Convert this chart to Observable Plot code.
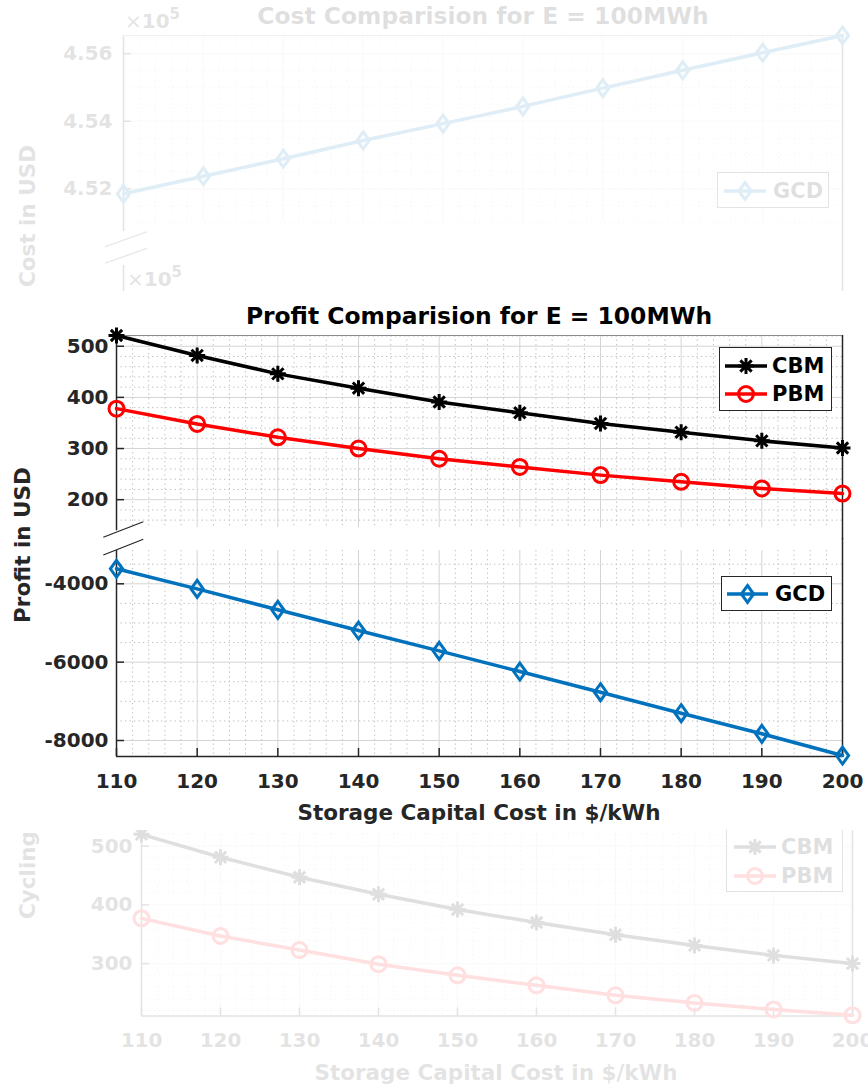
<!DOCTYPE html>
<html><head><meta charset="utf-8">
<script src="https://cdn.jsdelivr.net/npm/d3@7"></script>
<script src="https://cdn.jsdelivr.net/npm/@observablehq/plot@0.6"></script>
<style>
html,body{margin:0;padding:0;background:#fff;overflow:hidden}
#root{position:relative;width:868px;height:1088px;font-family:"DejaVu Sans",sans-serif;font-weight:bold;color:#262626}
.panel{position:absolute;left:0;width:868px;overflow:hidden}
.lbl{position:absolute;white-space:nowrap;line-height:1;transform:translate(-50%,-50%)}
.rot{transform:translate(-50%,-50%) rotate(-90deg)}
.leg{position:absolute;border:1.3px solid #262626;background:#fff;box-sizing:border-box}
</style></head><body><div id="root"></div>
<script>
// ---------- data ----------
const capitalCost = [110,120,130,140,150,160,170,180,190,200];
const profitCBM = [521,482,446,418,391,370,349,332,315,301];
const profitPBM = [378,348,322,300,280,264,248,235,222,212];
const profitGCD = [-3617,-4130,-4664,-5192,-5711,-6239,-6767,-7303,-7829,-8383];
const costGCD = [451850,452370,452890,453430,453930,454440,454980,455510,456030,456540];
const cyclingCBM = [520,481,447,418,392,370,349,331,314,300];
const cyclingPBM = [377,347,323,299,280,263,246,233,222,212];
const profitTicksUpper = [200,300,400,500];
const profitTicksLower = [-8000,-6000,-4000];
const costTicks = [452000,454000,456000];
const cyclingTicks = [300,400,500];
const seriesNames = ["CBM","PBM","GCD"];

const COLORS = {CBM:"#000000", PBM:"#ff0000", GCD:"#0072bd"};
const AX = "#262626";

// minor grid positions
const xMinor = d3.range(112, 200, 2).filter(v => v % 10 !== 0);
const upperMinor = d3.range(160, 521, 20).filter(v => v % 100 !== 0);
const lowerMinor = d3.range(-8000, -3499, 500).filter(v => v % 2000 !== 0);
const costMinor = d3.range(451000, 456541, 500).filter(v => v % 2000 !== 0);
const cyclingMinor = d3.range(220, 530, 20).filter(v => v % 100 !== 0);

// ---------- symbols ----------
const asteriskSym = {draw(ctx, size){ const r=Math.sqrt(size/Math.PI), a=r*Math.SQRT1_2;
  ctx.moveTo(-r,0);ctx.lineTo(r,0);ctx.moveTo(0,-r);ctx.lineTo(0,r);
  ctx.moveTo(-a,-a);ctx.lineTo(a,a);ctx.moveTo(-a,a);ctx.lineTo(a,-a);}};
const diamondSym = {draw(ctx, size){ const r=Math.sqrt(size/Math.PI), w=r*0.72;
  ctx.moveTo(0,-r);ctx.lineTo(w,0);ctx.lineTo(0,r);ctx.lineTo(-w,0);ctx.closePath();}};
const circleSym = {draw(ctx, size){ const r=Math.sqrt(size/Math.PI); ctx.moveTo(r,0); ctx.arc(0,0,r,0,2*Math.PI);}};
const SYM = {CBM:{s:asteriskSym,r:8}, PBM:{s:circleSym,r:7.5}, GCD:{s:diamondSym,r:8.5}};

const root = document.getElementById("root");
function panel(top, height, faded){
  const d = document.createElement("div");
  d.className = "panel"; d.style.top = top+"px"; d.style.height = height+"px";
  if (faded) d.style.opacity = "0.12";
  d.dataset.off = top;
  root.appendChild(d); return d;
}
function text(parent, str, cx, cy, size, opts={}){
  const d = document.createElement("div");
  d.className = "lbl" + (opts.rot ? " rot" : "");
  d.style.left = cx+"px"; d.style.top = (cy - +parent.dataset.off)+"px";
  d.style.fontSize = size+"px";
  if (opts.color) d.style.color = opts.color;
  d.textContent = str;
  parent.appendChild(d); return d;
}
function exponent(parent, x, baseline){
  const d = document.createElement("div");
  d.style.cssText = `position:absolute;left:${x}px;top:${baseline - +parent.dataset.off - 17}px;font-size:20px;line-height:20px;height:20px;white-space:nowrap`;
  d.innerHTML = `<span style="font-weight:normal">×</span>10<span style="font-size:15px;position:relative;top:-9px;line-height:0">5</span>`;
  parent.appendChild(d);
}
function breakMarks(parent, segs){
  const ns = "http://www.w3.org/2000/svg";
  const s = document.createElementNS(ns, "svg");
  s.setAttribute("width", 868); s.setAttribute("height", 1088);
  s.style.cssText = `position:absolute;left:0;top:${- +parent.dataset.off}px;overflow:visible`;
  for (const [x1,y1,x2,y2] of segs){
    const l = document.createElementNS(ns, "line");
    l.setAttribute("x1",x1);l.setAttribute("y1",y1);l.setAttribute("x2",x2);l.setAttribute("y2",y2);
    l.setAttribute("stroke",AX);l.setAttribute("stroke-width",1.2);
    s.appendChild(l);
  }
  parent.appendChild(s);
}
function legend(parent, box, rows){
  const [x0,y0,x1,y1] = box;
  const off = +parent.dataset.off;
  const d = document.createElement("div");
  d.className = "leg";
  d.style.cssText += `left:${x0}px;top:${y0-off}px;width:${x1-x0}px;height:${y1-y0}px`;
  parent.appendChild(d);
  for (const r of rows){
    const ns = "http://www.w3.org/2000/svg";
    const s = document.createElementNS(ns,"svg");
    s.setAttribute("width",60); s.setAttribute("height",30);
    s.style.cssText = `position:absolute;left:${r.lx1-x0-5}px;top:${r.cy-y0-15}px;overflow:visible`;
    const ln = document.createElementNS(ns,"line");
    ln.setAttribute("x1",5);ln.setAttribute("x2",5+r.lx2-r.lx1);ln.setAttribute("y1",15);ln.setAttribute("y2",15);
    ln.setAttribute("stroke",COLORS[r.name]);ln.setAttribute("stroke-width",3.5);
    s.appendChild(ln);
    const p = d3.path(); SYM[r.name].s.draw(p, SYM[r.name].r**2*Math.PI);
    const pe = document.createElementNS(ns,"path");
    pe.setAttribute("d", p.toString());
    pe.setAttribute("transform",`translate(${5+(r.lx2-r.lx1)/2},15)`);
    pe.setAttribute("fill","none");pe.setAttribute("stroke",COLORS[r.name]);pe.setAttribute("stroke-width",3);
    s.appendChild(pe);
    d.appendChild(s);
    const t = document.createElement("div");
    t.style.cssText = `position:absolute;left:${r.tx-x0}px;top:${r.cy-y0}px;transform:translateY(-50%);font-size:21px;line-height:1;color:#000`;
    t.textContent = r.name;
    d.appendChild(t);
  }
}

const M = 40;
function subplot(parent, o){
  const pw = o.xRight - o.xLeft, ph = o.bottom - o.top;
  const minorStyle = {stroke:"#bdbdbd", strokeDasharray:"1.3,3.2", strokeWidth:1};
  const marks = [
    Plot.ruleX(xMinor, minorStyle),
    Plot.ruleY(o.yMinor, minorStyle),
    Plot.ruleX(capitalCost, {stroke:"#d4d4d4", strokeWidth:1}),
    Plot.ruleY(o.yTicks, {stroke:"#d4d4d4", strokeWidth:1}),
    Plot.ruleX([capitalCost[0]], {stroke:AX, strokeWidth:1.5, insetTop:-(o.leftExt[0]), insetBottom:-(o.leftExt[1])}),
    Plot.ruleX([capitalCost[capitalCost.length-1]], {stroke:AX, strokeWidth:1.5, insetTop:-(o.rightExt[0]), insetBottom:-(o.rightExt[1])}),
    Plot.tickY(o.yTicks, {y:d=>d, stroke:AX, strokeWidth:1.5, insetRight: pw-8})
  ];
  if (o.extraLeft) marks.push(Plot.ruleX([capitalCost[0]], {stroke:AX, strokeWidth:1.5, insetTop:o.extraLeft[0], insetBottom:o.extraLeft[1]}));
  if (o.topLine) marks.push(Plot.ruleY([o.yDomain[1]], {stroke:"#8a8a8a", strokeWidth:1}));
  if (o.xAxis){
    marks.push(Plot.ruleY([o.yDomain[0]], {stroke:AX, strokeWidth:1.5}));
    marks.push(Plot.tickX(capitalCost, {x:d=>d, stroke:AX, strokeWidth:1.5, insetTop: ph-8}));
  }
  for (const s of o.series){
    const rows = capitalCost.map((c,i)=>({c, v:s.values[i]}));
    marks.push(Plot.line(rows, {x:"c", y:"v", stroke:COLORS[s.name], strokeWidth:3.5}));
    marks.push(Plot.dot(rows, {x:"c", y:"v", symbol:SYM[s.name].s, r:SYM[s.name].r, stroke:COLORS[s.name], strokeWidth:3, fill:"none"}));
  }
  marks.push(Plot.axisY({ticks:o.yTicks, tickSize:0, tickPadding:o.tickPad, tickFormat:o.fmt, label:null}));
  if (o.xAxis) marks.push(Plot.axisX({ticks:capitalCost, tickSize:0, tickPadding:17, tickFormat:d=>String(d), label:null}));
  const el = Plot.plot({
    width:868, height: ph + 2*M,
    marginLeft:o.xLeft, marginRight:868-o.xRight, marginTop:M, marginBottom:M,
    x:{domain:[110,200]}, y:{domain:o.yDomain},
    axis:null,
    style:{fontFamily:"DejaVu Sans", fontSize:"20px", fontWeight:"bold", color:AX, overflow:"visible", background:"none"},
    marks
  });
  el.style.position = "absolute"; el.style.left = "0px";
  el.style.top = (o.top - M - +parent.dataset.off) + "px";
  parent.appendChild(el);
  return el;
}

// ---------- top faded panel : cost ----------
const pTop = panel(0, 291, true);
subplot(pTop, {xLeft:123, xRight:842, top:35, bottom:222, yDomain:[451000,456540],
  yTicks:costTicks, yMinor:costMinor, fmt:d=>(d/1e5).toFixed(2), tickPad:11,
  leftExt:[0,9], rightExt:[0,80], extraLeft:[230,-80], topLine:true,
  series:[{name:"GCD", values:costGCD}]});
text(pTop, "Cost Comparision for E = 100MWh", 483, 17, 23.4, {color:"#000"});
exponent(pTop, 125, 28);
text(pTop, "Cost in USD", 28, 216, 21.5, {rot:true});
legend(pTop, [717,172,829,208], [{name:"GCD", lx1:723, lx2:765, tx:772, cy:190}]);
breakMarks(pTop, [[105,246.7,147,231.7],[105,263.3,147,248.3]]);
const pTopExp = panel(0, 300, true);
pTopExp.style.overflow = "visible";
exponent(pTopExp, 127, 286);

// ---------- bottom faded panel : cycling ----------
const pBot = panel(830, 258, true);
subplot(pBot, {xLeft:141, xRight:852, top:828.2, bottom:1015.7, yDomain:[210.8,530],
  yTicks:cyclingTicks, yMinor:cyclingMinor, fmt:d=>String(d), tickPad:9,
  leftExt:[0,0], rightExt:[0,0], topLine:true, xAxis:true,
  series:[{name:"CBM", values:cyclingCBM},{name:"PBM", values:cyclingPBM}]});
text(pBot, "Cycling", 28, 875, 21.5, {rot:true});
text(pBot, "Storage Capital Cost in $/kWh", 496, 1073, 21.5);
legend(pBot, [726,818,843,892], [{name:"CBM", lx1:733, lx2:775, tx:780, cy:846},{name:"PBM", lx1:733, lx2:775, tx:780, cy:875}]);

// ---------- middle panel : profit ----------
const pMid = panel(0, 1088, false);
pMid.style.overflow = "visible";
subplot(pMid, {xLeft:116, xRight:842, top:335, bottom:527.3, yDomain:[145,521],
  yTicks:profitTicksUpper, yMinor:upperMinor, fmt:d=>String(d), tickPad:8,
  leftExt:[0,3], rightExt:[0,12], topLine:true,
  series:[{name:"CBM", values:profitCBM},{name:"PBM", values:profitPBM}]});
subplot(pMid, {xLeft:116, xRight:842, top:550, bottom:756, yDomain:[-8408,-3150],
  yTicks:profitTicksLower, yMinor:lowerMinor, fmt:d=>String(d), tickPad:8,
  leftExt:[0,0], rightExt:[12,0], xAxis:true,
  series:[{name:"GCD", values:profitGCD}]});
text(pMid, "Profit Comparision for E = 100MWh", 479, 317, 23.4, {color:"#000"});
text(pMid, "Profit in USD", 23, 545, 21.5, {rot:true});
text(pMid, "Storage Capital Cost in $/kWh", 479, 813, 21.5);
legend(pMid, [719,347,832,411], [{name:"CBM", lx1:724, lx2:766, tx:771, cy:365},{name:"PBM", lx1:724, lx2:766, tx:771, cy:393}]);
legend(pMid, [721,576,832,611], [{name:"GCD", lx1:726, lx2:767, tx:774, cy:593}]);
breakMarks(pMid, [[103.3,537.3,143.3,521.7],[103.3,555,143.3,539.3]]);
</script></body></html>
